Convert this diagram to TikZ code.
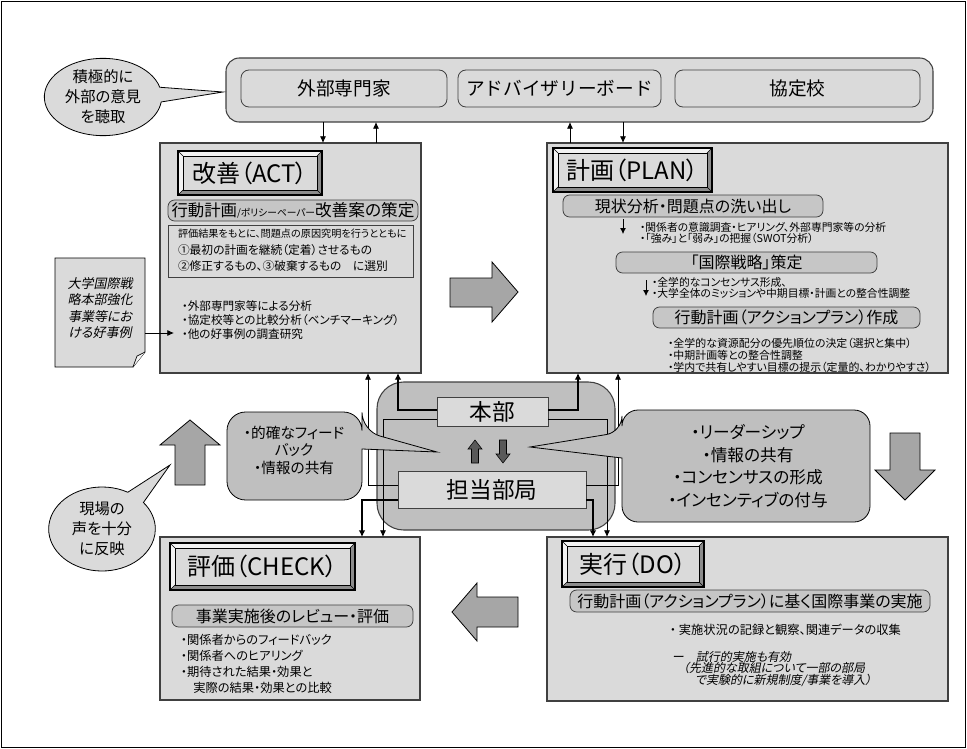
\documentclass[tikz,border=0pt]{standalone}
\usepackage{fontspec}
\setmainfont{Noto Sans CJK JP}[RawFeature=+palt]
\newfontfamily\jpfw{Noto Sans CJK JP}
\newfontfamily\jpit{Noto Sans CJK JP}[RawFeature=+palt,FakeSlant=0.2]
\usetikzlibrary{arrows.meta,shapes.callouts,fit,calc}
\definecolor{boxfill}{HTML}{DADADA}
\definecolor{subfill}{HTML}{C6C6C6}
\definecolor{midfill}{HTML}{BFBFBF}
\definecolor{arrfill}{HTML}{A6A6A6}
\definecolor{darkarr}{HTML}{595959}
\definecolor{edge}{HTML}{404040}
\definecolor{bevlight}{HTML}{F2F2F2}
\definecolor{bevdark}{HTML}{8C8C8C}
\newcommand\myTitleFont{\fontsize{18}{20}\selectfont}
\newcommand\bevelbox[6]{%
  \fill[bevlight] (#2,#3) rectangle (#4,#5);
  \fill[bevdark] (#4,#3) -- (#4,#5) -- (#2,#5) -- ({#2+5},{#5-5}) -- ({#4-5},{#5-5}) -- ({#4-5},{#3+5}) -- cycle;
  \draw[line width=0.4pt] (#2,#3) -- ({#2+5},{#3+5}) (#4,#3) -- ({#4-5},{#3+5}) (#2,#5) -- ({#2+5},{#5-5}) (#4,#5) -- ({#4-5},{#5-5});
  \node[draw=black,line width=0.4pt,fill=boxfill,fit={({#2+5},{#3+5}) ({#4-5},{#5-5})}] (#1) {};
  \node[font=\myTitleFont] (#1T) at (#1.center) {#6};
  \draw[line width=0.8pt] (#2,#3) rectangle (#4,#5);
}
\begin{document}
\begin{tikzpicture}[x=0.75pt,y=-0.75pt,
  every node/.style={inner sep=0pt,outer sep=0pt},
  bigbox/.style={draw=edge,fill=boxfill,line width=0.8pt},
  topbox/.style={draw=edge,fill=boxfill,line width=0.6pt,rounded corners=6pt},
  toptext/.style={font=\jpfw\fontsize{14}{16}\selectfont},
  subbox/.style={draw=edge,fill=subfill,line width=0.6pt,rounded corners=5pt},
  subtext/.style={font=\fontsize{12}{14}\selectfont},
  callstyle/.style={draw=black,fill=boxfill,line width=0.6pt},
  bubble/.style={draw=black,fill=midfill,line width=0.6pt},
  blockarr/.style={draw=black,fill=arrfill,line width=0.6pt},
  thinarr/.style={draw=black,line width=0.6pt,-{Latex[length=5pt,width=4.5pt]}},
  thickarr/.style={draw=black,line width=1.5pt,-{Latex[length=5pt,width=5pt]}},
  smallarr/.style={draw=black,line width=0.6pt,-{Latex[length=4.5pt,width=4.5pt]}},
  txt/.style={anchor=west,align=left}
]
\useasboundingbox (0,0) rectangle (967,749);
\draw[line width=0.8pt] (1.5,1.5) rectangle (965.5,747.5);

% ---------- top group ----------
\node[bigbox,rounded corners=10pt,fit={(226,58) (933,122)}] (top) {};
\node[topbox,fit={(241,70) (447,107)}] (gaibu) {};
\node[toptext] (gaibuT) at (gaibu.center) {外部専門家};
\node[topbox,fit={(458,70) (661,107)}] (advisory) {};
\node[toptext] (advisoryT) at (advisory.center) {アドバイザリーボード};
\node[topbox,fit={(675,70) (920,107)}] (kyotei) {};
\node[toptext] (kyoteiT) at (kyotei.center) {協定校};

\node[ellipse callout,callstyle,minimum width=88pt,minimum height=58pt,callout pointer arc=22,callout absolute pointer={(223,92)}] (sekkyoku) at (103,97) {};
\node[align=center,font=\fontsize{11.5}{15}\selectfont] (sekkyokut) at (sekkyoku.center) {積極的に\\外部の意見\\を聴取};

% ---------- ACT ----------
\node[bigbox,fit={(160,143) (421,373)}] (act) {};
\bevelbox{acttitle}{178}{151}{322}{195}{改善（ACT）}
\node[subbox,fit={(168,200) (418,221)}] (actsub) {};
\node (actsubT) at (actsub.center) {{\fontsize{12.3}{14}\selectfont 行動計画}{\fontsize{7.3}{9}\selectfont /ポリシーペーパー}{\fontsize{12.5}{14}\selectfont 改善案の策定}};
\node[draw=edge,fill=boxfill,line width=0.6pt,fit={(168,225) (413,277)}] (actrect) {};
\node[txt,font=\fontsize{7.6}{9}\selectfont] (actl1) at (178,234) {評価結果をもとに、問題点の原因究明を行うとともに};
\node[txt,font=\fontsize{8.8}{10}\selectfont] (actl2) at (178,250) {①最初の計画を継続（定着）させるもの};
\node[txt,font=\fontsize{8.8}{10}\selectfont] (actl3) at (178,266) {②修正するもの、③破棄するもの　に選別};
\node[txt,font=\fontsize{8.7}{10.2}\selectfont] (actbul) at (182,320) {・外部専門家等による分析\\・協定校等との比較分析（ベンチマーキング）\\・他の好事例の調査研究};

% note
\draw[draw=black,fill=boxfill,line width=0.6pt] (55,258) -- (145,258) -- (145,352) -- (133,367) -- (55,367) -- cycle;
\draw[fill=bevlight,line width=0.5pt] (145,352) -- (137,356) -- (133,367);
\node[align=center,font=\jpit\fontsize{9.75}{12.4}\selectfont] (note) at (100,308) {大学国際戦\\略本部強化\\事業等にお\\ける好事例};
\coordinate (noteR) at (145,333);
\draw[thinarr] (noteR) -- ($(actbul.west |- noteR)+(-8,0)$);

% ---------- PLAN ----------
\node[bigbox,fit={(547,143) (948,373)}] (plan) {};
\bevelbox{plantitle}{553}{148}{712}{192}{計画（PLAN）}
\node[subbox,fit={(563,195) (823,217)}] (plansub1) {};
\node[subtext] (plansub1T) at (plansub1.center) {現状分析・問題点の洗い出し};
\draw[smallarr] (623,0 |- plansub1.south) ++(0,2) -- ++(0,15);
\node[txt,font=\fontsize{8.1}{8.3}\selectfont] (planbul1) at (640,232.5) {・関係者の意識調査・ヒアリング、外部専門家等の分析\\・「強み」と「弱み」の把握（SWOT分析）};
\node[subbox,fit={(616,252) (877,273)}] (plansub2) {};
\node[subtext] (plansub2T) at (plansub2.center) {「国際戦略」策定};
\draw[smallarr] (646,0 |- plansub2.south) ++(0,7) -- ++(0,16);
\node[txt,font=\fontsize{8.1}{8.3}\selectfont] (planbul2) at (652,287.5) {・全学的なコンセンサス形成、\\・大学全体のミッションや中期目標・計画との整合性調整};
\node[subbox,fit={(653,307) (920,328)}] (plansub3) {};
\node[subtext] (plansub3T) at (plansub3.center) {行動計画（アクションプラン）作成};
\node[txt,font=\fontsize{8.2}{9}\selectfont] (planbul3) at (668,355) {・全学的な資源配分の優先順位の決定（選択と集中）\\・中期計画等との整合性調整\\・学内で共有しやすい目標の提示（定量的、わかりやすさ）};

% ---------- big gray arrows ----------
\draw[blockarr] (450,278) -- (492,278) -- (492,262) -- (518,292) -- (492,322) -- (492,307) -- (450,307) -- cycle;
\draw[blockarr] (890,433) -- (920,433) -- (920,470) -- (935,470) -- (905,500) -- (875,470) -- (890,470) -- cycle;
\draw[blockarr] (518,597) -- (477,597) -- (477,583) -- (452,612) -- (477,641) -- (477,627) -- (518,627) -- cycle;
\draw[blockarr] (175,485) -- (175,445) -- (160,445) -- (190,420) -- (220,445) -- (205,445) -- (205,485) -- cycle;

% ---------- CHECK ----------
\node[bigbox,fit={(160,537) (420,700)}] (check) {};
\bevelbox{checktitle}{170}{543}{355}{590}{評価（CHECK）}
\node[subbox,fit={(172,605) (413,627)}] (checksub) {};
\node[subtext] (checksubT) at (checksub.center) {事業実施後のレビュー・評価};
\node[txt,font=\fontsize{9.2}{12}\selectfont] (checkbul) at (181,664) {・関係者からのフィードバック\\・関係者へのヒアリング\\・期待された結果・効果と\\　実際の結果・効果との比較};

% ---------- DO ----------
\node[bigbox,fit={(547,537) (948,701)}] (doblk) {};
\bevelbox{dotitle}{562}{541}{704}{587}{実行（DO）}
\node[subbox,fit={(570,590) (930,612)}] (dosub) {};
\node[subtext] (dosubT) at (dosub.center) {行動計画（アクションプラン）に基く国際事業の実施};
\node[txt,font=\fontsize{9.2}{10}\selectfont] (dol1) at (670,630) {・ 実施状況の記録と観察、関連データの収集};
\node[txt,font=\jpit\fontsize{9}{10}\selectfont] (dol2) at (672,657) {ー\quad 試行的実施も有効};
\node[txt,font=\jpit\fontsize{9}{10}\selectfont] (dol3) at (683,668) {（先進的な取組について一部の部局};
\node[txt,font=\jpit\fontsize{9}{10}\selectfont] (dol4) at (695,680) {で実験的に新規制度/事業を導入）};

% ---------- centre ----------
\node[draw=edge,fill=midfill,line width=0.8pt,rounded corners=20pt,fit={(377,382) (615,530)}] (centre) {};
\node[draw=edge,fill=boxfill,line width=0.6pt,fit={(437,397) (548,426)}] (honbu) {};
\node[font=\fontsize{17}{20}\selectfont] (honbuT) at (honbu.center) {本部};
\node[draw=edge,fill=boxfill,line width=0.6pt,fit={(398,471) (586,508)}] (tanto) {};
\node[font=\fontsize{17}{20}\selectfont] (tantoT) at (tanto.center) {担当部局};
\draw[fill=darkarr,draw=black,line width=0.4pt] (475,440) -- (482,449) -- (478.5,449) -- (478.5,463) -- (471.5,463) -- (471.5,449) -- (468,449) -- cycle;
\draw[fill=darkarr,draw=black,line width=0.4pt] (503,463) -- (510,454) -- (506.5,454) -- (506.5,440) -- (499.5,440) -- (499.5,454) -- (496,454) -- cycle;

% connectors top
\draw[thinarr] (323,0 |- top.south) -- (323,0 |- act.north);
\draw[thinarr] (376,0 |- act.north) -- (376,0 |- top.south);
\draw[thinarr] (570,0 |- plan.north) -- (570,0 |- top.south);
\draw[thinarr] (623,0 |- top.south) -- (623,0 |- plan.north);

% connectors centre
\draw[thickarr] (honbu.west |- 0,410) -| (398,0 |- act.south);
\draw[thickarr] (honbu.east |- 0,410) -| (578,0 |- plan.south);
\draw[thinarr] (honbu.west |- 0,419) -| (383,0 |- check.north);
\draw[thinarr] (honbu.east |- 0,419) -| (607,0 |- doblk.north);
\draw[thinarr] (tanto.west |- 0,485) -| (368,0 |- act.south);
\draw[thinarr] (tanto.east |- 0,485) -| (618,0 |- plan.south);
\draw[thickarr] (tanto.west |- 0,500) -| (362,0 |- check.north);
\draw[thickarr] (tanto.east |- 0,500) -| (593,0 |- doblk.north);

% bubbles
\draw[bubble] (227,456) [rounded corners=14pt] |- (362,412) -- (362,431) [sharp corners] -- (437,452) -- (362,449) [rounded corners=14pt] |- (227,500) -- cycle;
\node[align=center,font=\fontsize{11}{13.1}\selectfont] (fb) at (294,450) {・的確なフィード\\バック\\・情報の共有};
\draw[bubble] (870,466) [rounded corners=12pt] |- (622,410) -- (622,432) [sharp corners] -- (530,447) -- (622,458) [rounded corners=12pt] |- (870,522) -- cycle;
\node[align=center,font=\fontsize{12.5}{17}\selectfont] (lead) at (748,466) {・リーダーシップ\\・情報の共有\\・コンセンサスの形成\\・インセンティブの付与};

% genba ellipse
\node[ellipse callout,callstyle,minimum width=80pt,minimum height=63pt,callout pointer arc=22,callout absolute pointer={(170,465)}] (genba) at (102,529) {};
\node[align=center,font=\fontsize{11.5}{15}\selectfont] (genbat) at (genba.center) {現場の\\声を十分\\に反映};
\end{tikzpicture}
\end{document}
